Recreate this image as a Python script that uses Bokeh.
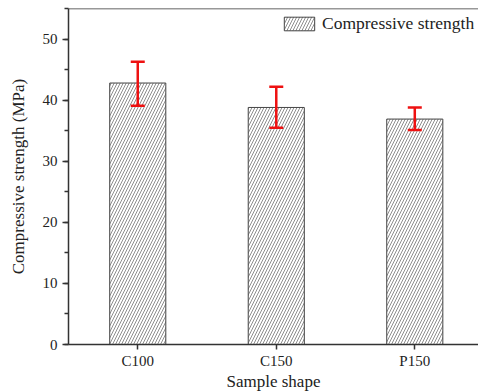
from bokeh.plotting import figure
from bokeh.models import (Range1d, FixedTicker, SingleIntervalTicker, Whisker, TeeHead,
                          ColumnDataSource, Span, Legend, LegendItem)
from bokeh.embed import file_html
from bokeh.resources import INLINE

categories = ["C100", "C150", "P150"]
strength = [42.8, 38.8, 36.9]
err_upper = [46.3, 42.2, 38.8]
err_lower = [39.1, 35.5, 35.1]

FONT = "Liberation Serif"
AX = "#333333"

xpos = [i + 0.5 for i in range(len(categories))]
src = ColumnDataSource(dict(x=xpos, top=strength, upper=err_upper, lower=err_lower))

p = figure(frame_width=410, frame_height=336, x_range=Range1d(0, 2.96), y_range=Range1d(0, 55),
           output_backend="svg", toolbar_location=None,
           min_border_left=68, min_border_right=0, min_border_top=8, min_border_bottom=47)
p.outline_line_color = None
p.grid.visible = False
p.background_fill_color = "white"
p.border_fill_color = "white"

bars = p.vbar(x="x", top="top", width=0.405, bottom=0, source=src,
              fill_color="white", line_color="#444444", line_width=1,
              hatch_pattern="right_diagonal_line", hatch_color="#808080",
              hatch_scale=6, hatch_weight=0.9)

w = Whisker(base="x", upper="upper", lower="lower", source=src, level="overlay",
            line_color="#ee1111", line_width=2.5,
            upper_head=TeeHead(size=14, line_color="#ee1111", line_width=2.5),
            lower_head=TeeHead(size=14, line_color="#ee1111", line_width=2.5))
p.add_layout(w)

p.add_layout(Span(location=55, dimension="width", line_color=AX, line_width=1.5))

# x axis
p.xaxis.ticker = FixedTicker(ticks=xpos)
p.xaxis.major_label_overrides = {x: c for x, c in zip(xpos, categories)}
p.xaxis.major_tick_in = 0
p.xaxis.major_tick_out = 5
p.xaxis.axis_label = "Sample shape"
# y axis
p.yaxis.ticker = SingleIntervalTicker(interval=10, num_minor_ticks=2)
p.yaxis.major_tick_in = 0
p.yaxis.major_tick_out = 6
p.yaxis.minor_tick_in = 0
p.yaxis.minor_tick_out = 4
p.yaxis.axis_label = "Compressive strength (MPa)"

for ax in (p.xaxis, p.yaxis):
    ax.axis_line_color = AX
    ax.axis_line_width = 1.5
    ax.major_tick_line_color = AX
    ax.major_tick_line_width = 1.5
    ax.minor_tick_line_width = 1.5
    ax.major_label_text_font = FONT
    ax.major_label_text_font_size = "15px"
    ax.major_label_text_color = "#222222"
    ax.axis_label_text_font = FONT
    ax.axis_label_text_font_size = "17px"
    ax.axis_label_text_font_style = "normal"
    ax.axis_label_text_color = "#222222"
p.xaxis.minor_tick_line_color = None
p.yaxis.minor_tick_line_color = AX
p.xaxis.major_label_standoff = 3
p.yaxis.major_label_standoff = 5
p.xaxis.axis_label_standoff = 0
p.yaxis.axis_label_standoff = 12

legend = Legend(items=[LegendItem(label="Compressive strength", renderers=[bars])],
                location=(212, 310), margin=0, padding=0,
                border_line_color=None, background_fill_alpha=0,
                glyph_width=38, glyph_height=17, label_height=17, label_standoff=4,
                label_text_font=FONT, label_text_font_size="17.5px", label_text_color="#222222")
p.add_layout(legend)

open("out.html", "w").write(file_html(p, INLINE))
